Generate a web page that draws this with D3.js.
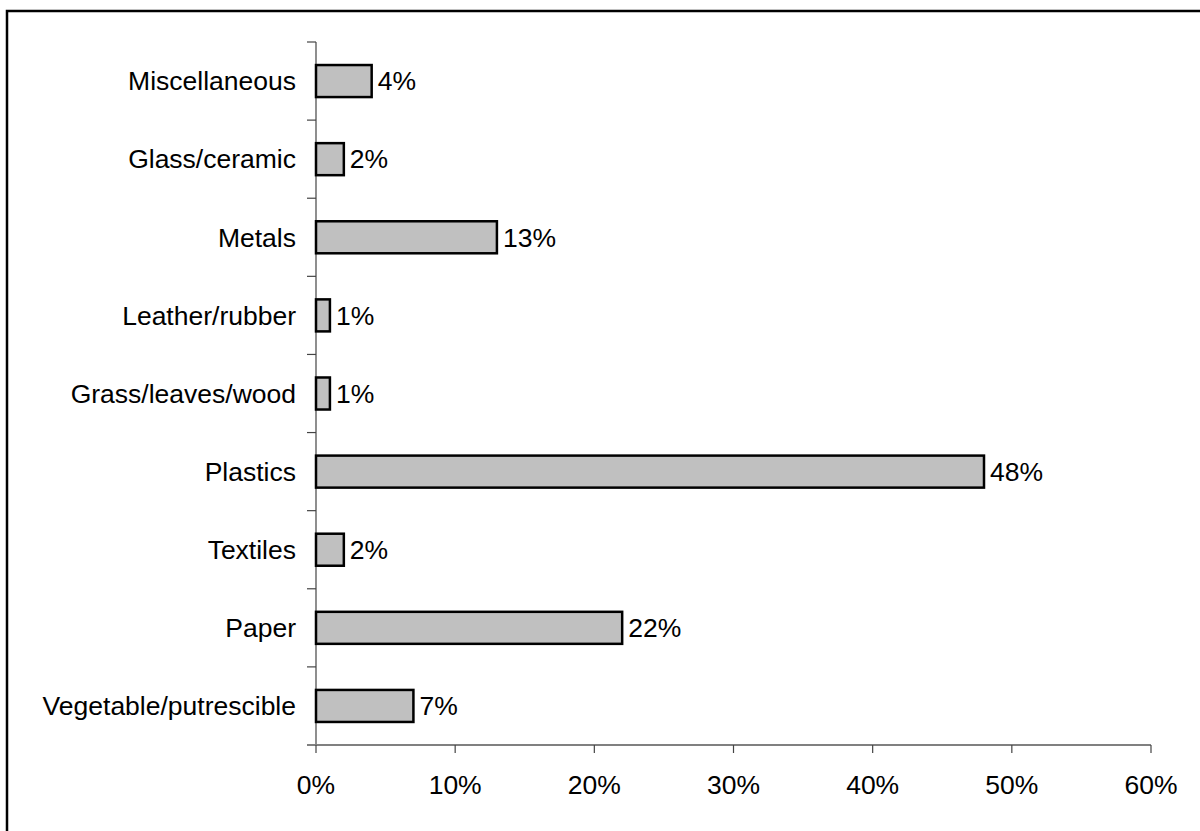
<!DOCTYPE html>
<html>
<head>
<meta charset="utf-8">
<script src="https://d3js.org/d3.v7.min.js"></script>
<style>
  body { margin: 0; background: #fff; }
  text { font-family: Arial, "Liberation Sans", sans-serif; }
</style>
</head>
<body>
<div id="chart"></div>
<script>
// categories listed from bottom to top, as in the picture
var categories = ["Vegetable/putrescible", "Paper", "Textiles", "Plastics", "Grass/leaves/wood",
	"Leather/rubber", "Metals", "Glass/ceramic", "Miscellaneous"];
var shares = [7, 22, 2, 48, 1, 1, 13, 2, 4];
var xTicks = [0, 10, 20, 30, 40, 50, 60];

var width = 1200, height = 831;
var plot = {left: 316, right: 1151, top: 42, bottom: 745};
var fontSize = 26.5;

var svg = d3.select("#chart").append("svg").attr("width", width).attr("height", height);

// frame round the chart (runs off the right and bottom edges)
svg.append("rect")
	.attr("x", 7).attr("y", 11)
	.attr("width", 1220).attr("height", 900)
	.attr("fill", "none").attr("stroke", "#000").attr("stroke-width", 2.5);

var x = d3.scaleLinear().domain([0, 60]).range([plot.left, plot.right]);
var y = d3.scaleBand().domain(categories.slice().reverse()).range([plot.top, plot.bottom]).paddingInner(0.59).paddingOuter(0.295);

// band boundaries for the y tick marks
var band = (plot.bottom - plot.top) / categories.length;
var yBounds = d3.range(categories.length + 1).map(function(i){ return plot.top + i * band; });

var g = svg.append("g");

// y axis line and tick marks
g.append("line")
	.attr("x1", plot.left).attr("x2", plot.left).attr("y1", plot.top).attr("y2", plot.bottom)
	.attr("stroke", "#444").attr("stroke-width", 1.2);
g.selectAll(".ytick").data(yBounds).enter().append("line")
	.attr("class", "ytick")
	.attr("x1", plot.left - 9).attr("x2", plot.left)
	.attr("y1", function(d){ return d; }).attr("y2", function(d){ return d; })
	.attr("stroke", "#444").attr("stroke-width", 1.2);

// x axis
g.append("line")
	.attr("x1", plot.left - 9).attr("x2", plot.right).attr("y1", plot.bottom).attr("y2", plot.bottom)
	.attr("stroke", "#808080").attr("stroke-width", 2);
g.selectAll(".xtick").data(xTicks).enter().append("line")
	.attr("class", "xtick")
	.attr("x1", function(d){ return x(d); }).attr("x2", function(d){ return x(d); })
	.attr("y1", plot.bottom).attr("y2", plot.bottom + 8)
	.attr("stroke", "#444").attr("stroke-width", 1.2);
g.selectAll(".xlabel").data(xTicks).enter().append("text")
	.attr("class", "xlabel")
	.attr("x", function(d){ return x(d); })
	.attr("y", 785)
	.attr("dy", "0.35em")
	.attr("text-anchor", "middle")
	.attr("font-size", fontSize)
	.text(function(d){ return d + "%"; });

// category labels
g.selectAll(".ylabel").data(categories).enter().append("text")
	.attr("class", "ylabel")
	.attr("x", plot.left - 20)
	.attr("y", function(d){ return y(d) + y.bandwidth() / 2; })
	.attr("dy", "0.35em")
	.attr("text-anchor", "end")
	.attr("font-size", fontSize)
	.text(function(d){ return d; });

// bars
var data = categories.map(function(c, i){ return {cat: c, v: shares[i]}; });
g.selectAll(".bar").data(data).enter().append("rect")
	.attr("class", "bar")
	.attr("x", x(0))
	.attr("y", function(d){ return y(d.cat); })
	.attr("width", function(d){ return x(d.v) - x(0); })
	.attr("height", y.bandwidth())
	.attr("fill", "#c0c0c0")
	.attr("stroke", "#000")
	.attr("stroke-width", 2.5);

// value labels
g.selectAll(".val").data(data).enter().append("text")
	.attr("class", "val")
	.attr("x", function(d){ return x(d.v) + 6; })
	.attr("y", function(d){ return y(d.cat) + y.bandwidth() / 2; })
	.attr("dy", "0.35em")
	.attr("font-size", fontSize)
	.text(function(d){ return d.v + "%"; });
</script>
</body>
</html>
